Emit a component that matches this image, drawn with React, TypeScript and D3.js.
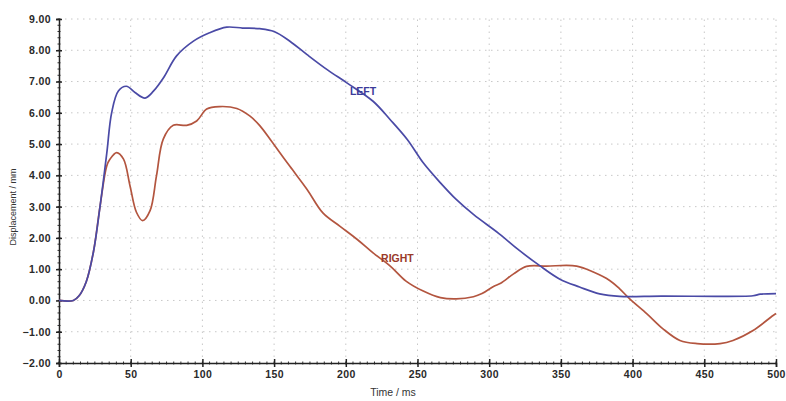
import { useEffect, useRef } from "react"
import * as d3 from "d3"

// LEFT series (blue): time in ms, displacement in mm
const leftTime = [0, 10, 14, 19, 24, 28.6, 33.3, 36.7, 41.4, 47, 53, 60, 66, 73, 82, 94, 105, 117, 128, 140, 150, 161, 173, 187, 201, 219, 231, 243, 254, 266, 277, 289, 307, 321, 335, 349, 363, 377, 391, 420, 484, 489, 500]
const leftDisp = [0, 0, 0.15, 0.6, 1.55, 3.0, 4.7, 6.0, 6.7, 6.85, 6.65, 6.47, 6.7, 7.13, 7.82, 8.3, 8.56, 8.74, 8.71, 8.69, 8.6, 8.29, 7.86, 7.38, 6.95, 6.37, 5.78, 5.14, 4.4, 3.76, 3.23, 2.75, 2.13, 1.6, 1.12, 0.69, 0.43, 0.21, 0.13, 0.14, 0.15, 0.2, 0.22]

// RIGHT series (red)
const rightTime = [0, 10, 14, 19, 24, 28.6, 33.3, 35.6, 40.2, 45, 49.5, 54, 58.3, 63.5, 68, 72.7, 79.7, 89, 96, 103, 112, 124, 133, 140, 149, 161, 173, 184, 196, 208, 219, 231, 242, 254, 266, 277, 289, 295, 303, 308, 317, 326, 340, 361, 373, 384, 391, 398, 410, 421, 433, 445, 461, 470, 484, 498, 500]
const rightDisp = [0, 0, 0.15, 0.6, 1.55, 3.0, 4.3, 4.52, 4.73, 4.52, 3.67, 2.82, 2.55, 2.87, 3.99, 5.16, 5.6, 5.6, 5.74, 6.12, 6.2, 6.14, 5.9, 5.59, 5.04, 4.29, 3.55, 2.8, 2.37, 1.95, 1.52, 1.1, 0.62, 0.3, 0.09, 0.05, 0.12, 0.22, 0.45, 0.55, 0.85, 1.09, 1.1, 1.1, 0.9, 0.64, 0.37, 0.05, -0.43, -0.9, -1.28, -1.38, -1.38, -1.28, -0.96, -0.48, -0.42]

const xTicks = [0, 50, 100, 150, 200, 250, 300, 350, 400, 450, 500]
const yTicks = [-2, -1, 0, 1, 2, 3, 4, 5, 6, 7, 8, 9]

const labels = [
    { text: "LEFT", t: 212, v: 6.7, color: "#3c3c9a" },
    { text: "RIGHT", t: 236, v: 1.35, color: "#9a3a2a" },
]

export default function App() {
    const ref = useRef<SVGSVGElement | null>(null)

    useEffect(() => {
        const node = ref.current
        if (!node) return
        const width = 786
        const height = 401
        const margin = { top: 19, right: 10, bottom: 38, left: 59 }

        const svg = d3.select(node)
        svg.selectAll("*").remove()

        const x = d3.scaleLinear().domain([0, 500]).range([margin.left, width - margin.right])
        const y = d3.scaleLinear().domain([-2, 9]).range([height - margin.bottom, margin.top])

        const font = "'Liberation Sans', Arial, sans-serif"

        // dotted grid
        const grid = svg.append("g").attr("stroke", "#c8c8c8").attr("stroke-width", 1).attr("stroke-dasharray", "1.5,4.5")
        grid.selectAll("line.h")
            .data(yTicks.filter(d => d > -2))
            .join("line")
            .attr("class", "h")
            .attr("x1", x(0)).attr("x2", x(500))
            .attr("y1", d => y(d)).attr("y2", d => y(d))
        grid.selectAll("line.v")
            .data(xTicks.filter(d => d > 0))
            .join("line")
            .attr("class", "v")
            .attr("y1", y(-2)).attr("y2", y(9))
            .attr("x1", d => x(d)).attr("x2", d => x(d))

        // minor ticks
        const minorY = d3.range(-2, 9.001, 0.2)
        svg.append("g")
            .attr("stroke", "#333")
            .selectAll("line")
            .data(minorY)
            .join("line")
            .attr("x1", x(0) - 1.5).attr("x2", x(0) + 1.5)
            .attr("y1", d => y(d)).attr("y2", d => y(d))
        const minorX = d3.range(0, 500.001, 5)
        svg.append("g")
            .attr("stroke", "#333")
            .selectAll("line")
            .data(minorX)
            .join("line")
            .attr("y1", y(-2) - 1.5).attr("y2", y(-2) + 1.5)
            .attr("x1", d => x(d)).attr("x2", d => x(d))

        // axes
        const yAxis = svg.append("g")
            .attr("transform", `translate(${x(0)},0)`)
            .call(d3.axisLeft(y).tickValues(yTicks).tickFormat(d3.format(".2f")).tickSize(3).tickPadding(5))
        yAxis.selectAll(".tick line").attr("x1", 3).attr("stroke", "#222").attr("stroke-width", 1.5)
        yAxis.select(".domain").attr("stroke", "#222").attr("stroke-width", 1.5)
        yAxis.selectAll("text")
            .attr("font-family", font).attr("font-size", 10.5).attr("font-weight", "bold")
            .attr("letter-spacing", 0.4).attr("fill", "#2a2a2a")

        const xAxis = svg.append("g")
            .attr("transform", `translate(0,${y(-2)})`)
            .call(d3.axisBottom(x).tickValues(xTicks).tickFormat(d3.format("d")).tickSize(4).tickPadding(4))
        xAxis.selectAll(".tick line").attr("y1", -4).attr("stroke", "#222").attr("stroke-width", 1.5)
        xAxis.select(".domain").attr("stroke", "#222").attr("stroke-width", 1.5)
        xAxis.selectAll("text")
            .attr("font-family", font).attr("font-size", 10.5).attr("font-weight", "bold")
            .attr("letter-spacing", 0.4).attr("fill", "#2a2a2a")

        // axis titles
        svg.append("text")
            .attr("x", 393).attr("y", 396)
            .attr("text-anchor", "middle")
            .attr("font-family", font).attr("font-size", 10.5).attr("fill", "#333")
            .text("Time / ms")
        svg.append("text")
            .attr("transform", `translate(16,${207}) rotate(-90)`)
            .attr("text-anchor", "middle")
            .attr("font-family", font).attr("font-size", 9).attr("fill", "#333")
            .text("Displacement / mm")

        // lines
        const line = d3.line<[number, number]>()
            .x(d => x(d[0]))
            .y(d => y(d[1]))
            .curve(d3.curveCatmullRom.alpha(0.5))

        const leftData = leftTime.map((t, i) => [t, leftDisp[i]] as [number, number])
        const rightData = rightTime.map((t, i) => [t, rightDisp[i]] as [number, number])

        svg.append("path")
            .datum(rightData)
            .attr("d", line)
            .attr("fill", "none")
            .attr("stroke", "#b3553f")
            .attr("stroke-width", 1.7)
        svg.append("path")
            .datum(leftData)
            .attr("d", line)
            .attr("fill", "none")
            .attr("stroke", "#4a4aa6")
            .attr("stroke-width", 1.7)

        svg.selectAll("text.series")
            .data(labels)
            .join("text")
            .attr("class", "series")
            .attr("x", d => x(d.t)).attr("y", d => y(d.v))
            .attr("dy", "0.35em")
            .attr("text-anchor", "middle")
            .attr("font-family", font).attr("font-size", 10.5).attr("font-weight", "bold")
            .attr("fill", d => d.color)
            .text(d => d.text)
    }, [])

    return (
        <svg
            ref={ref}
            width={786}
            height={401}
            style={{ position: "absolute", left: 0, top: 0, background: "#fff" }}
        />
    )
}
